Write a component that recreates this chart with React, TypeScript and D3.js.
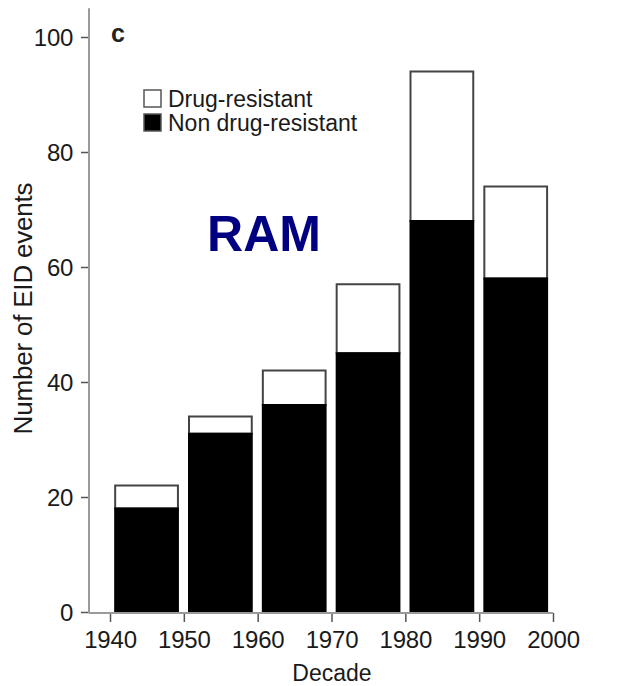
import React, { useEffect, useRef } from "react";
import * as d3 from "d3";

// Decades (start year) and stacked event counts
const decades = [1940, 1950, 1960, 1970, 1980, 1990];
const nonDrugResistant = [18, 31, 36, 45, 68, 58];
const drugResistant = [4, 3, 6, 12, 26, 16];
const yTicks = [0, 20, 40, 60, 80, 100];
const xTicks = [1940, 1950, 1960, 1970, 1980, 1990, 2000];
const legendItems = [
  { label: "Drug-resistant", fill: "#ffffff" },
  { label: "Non drug-resistant", fill: "#000000" },
];

const W = 625;
const H = 686;
const FONT = "'Liberation Sans', Arial, Helvetica, sans-serif";

export default function App() {
  const ref = useRef<SVGSVGElement | null>(null);

  useEffect(() => {
    const svg = d3.select(ref.current);
    svg.selectAll("*").remove();

    const y = d3.scaleLinear().domain([0, 100]).range([612, 37]);
    const x = d3.scaleLinear().domain([1940, 2000]).range([110, 553]);
    const axisX = 89;
    const axisColor = "#9a9a9a";
    const textColor = "#1a1a1a";

    // y axis
    const gy = svg.append("g").attr("transform", `translate(${axisX},0)`);
    gy.call(
      d3
        .axisLeft(y)
        .tickValues(yTicks)
        .tickSize(8)
        .tickPadding(8)
        .tickFormat(d3.format("d"))
    );
    gy.select(".domain").remove();
    gy.append("line")
      .attr("x1", 0)
      .attr("x2", 0)
      .attr("y1", y(0) + 1)
      .attr("y2", y(105))
      .attr("stroke", axisColor)
      .attr("stroke-width", 2);
    gy.selectAll(".tick line").attr("stroke", "#555").attr("stroke-width", 1.5);
    gy.selectAll(".tick text")
      .attr("fill", textColor)
      .attr("dy", "0.36em")
      .style("font-family", FONT)
      .style("font-size", "24px")
      .style("letter-spacing", "-0.3px");

    // x axis
    const gx = svg.append("g").attr("transform", `translate(0,${y(0) + 1})`);
    gx.call(
      d3
        .axisBottom(x)
        .tickValues(xTicks)
        .tickSize(9)
        .tickPadding(9)
        .tickFormat(d3.format("d"))
    );
    gx.select(".domain").remove();
    gx.append("line")
      .attr("x1", axisX)
      .attr("x2", x(2000))
      .attr("y1", 0)
      .attr("y2", 0)
      .attr("stroke", axisColor)
      .attr("stroke-width", 2);
    gx.selectAll(".tick line").attr("stroke", "#555").attr("stroke-width", 1.5);
    gx.selectAll(".tick text")
      .attr("fill", textColor)
      .style("font-family", FONT)
      .style("font-size", "24px")
      .style("letter-spacing", "-0.2px");

    // stacked bars
    const bars = svg.append("g");
    decades.forEach((d, i) => {
      const x0 = x(d + 0.7);
      const x1 = x(d + 9.2);
      const low = nonDrugResistant[i];
      const total = low + drugResistant[i];
      bars
        .append("rect")
        .attr("x", x0)
        .attr("y", y(total))
        .attr("width", x1 - x0)
        .attr("height", y(low) - y(total))
        .attr("fill", "#ffffff")
        .attr("stroke", "#444")
        .attr("stroke-width", 2);
      bars
        .append("rect")
        .attr("x", x0 - 1)
        .attr("y", y(low) - 1)
        .attr("width", x1 - x0 + 2)
        .attr("height", y(0) - y(low) + 1)
        .attr("fill", "#000000");
    });

    // axis titles
    svg
      .append("text")
      .attr("x", 332)
      .attr("y", 681)
      .attr("text-anchor", "middle")
      .attr("fill", textColor)
      .style("font-family", FONT)
      .style("font-size", "23px")
      .text("Decade");

    svg
      .append("text")
      .attr("transform", `translate(32,${(180 + 437) / 2}) rotate(-90)`)
      .attr("text-anchor", "middle")
      .attr("fill", textColor)
      .style("font-family", FONT)
      .style("font-size", "26px")
      .style("letter-spacing", "-0.2px")
      .text("Number of EID events");

    // panel letter
    svg
      .append("text")
      .attr("x", 118)
      .attr("y", 42)
      .attr("text-anchor", "middle")
      .attr("fill", "#222")
      .style("font-family", FONT)
      .style("font-size", "25px")
      .style("font-weight", "bold")
      .text("c");

    // legend
    const lg = svg.append("g").attr("transform", "translate(143,89)");
    legendItems.forEach((item, i) => {
      const row = lg.append("g").attr("transform", `translate(0,${i * 24})`);
      row
        .append("rect")
        .attr("x", 1)
        .attr("y", 1)
        .attr("width", 17)
        .attr("height", 17)
        .attr("fill", item.fill)
        .attr("stroke", "#555")
        .attr("stroke-width", 1.5);
      row
        .append("text")
        .attr("x", 25)
        .attr("y", 18)
        .attr("fill", textColor)
        .style("font-family", FONT)
        .style("font-size", "23px")
        .text(item.label);
    });

    // overlay title
    svg
      .append("text")
      .attr("x", 264)
      .attr("y", 251)
      .attr("text-anchor", "middle")
      .attr("fill", "#000080")
      .style("font-family", FONT)
      .style("font-size", "50px")
      .style("font-weight", "bold")
      .text("RAM");
  }, []);

  return (
    <svg
      ref={ref}
      width={W}
      height={H}
      style={{ position: "absolute", left: 0, top: 0, background: "#fff" }}
    />
  );
}
